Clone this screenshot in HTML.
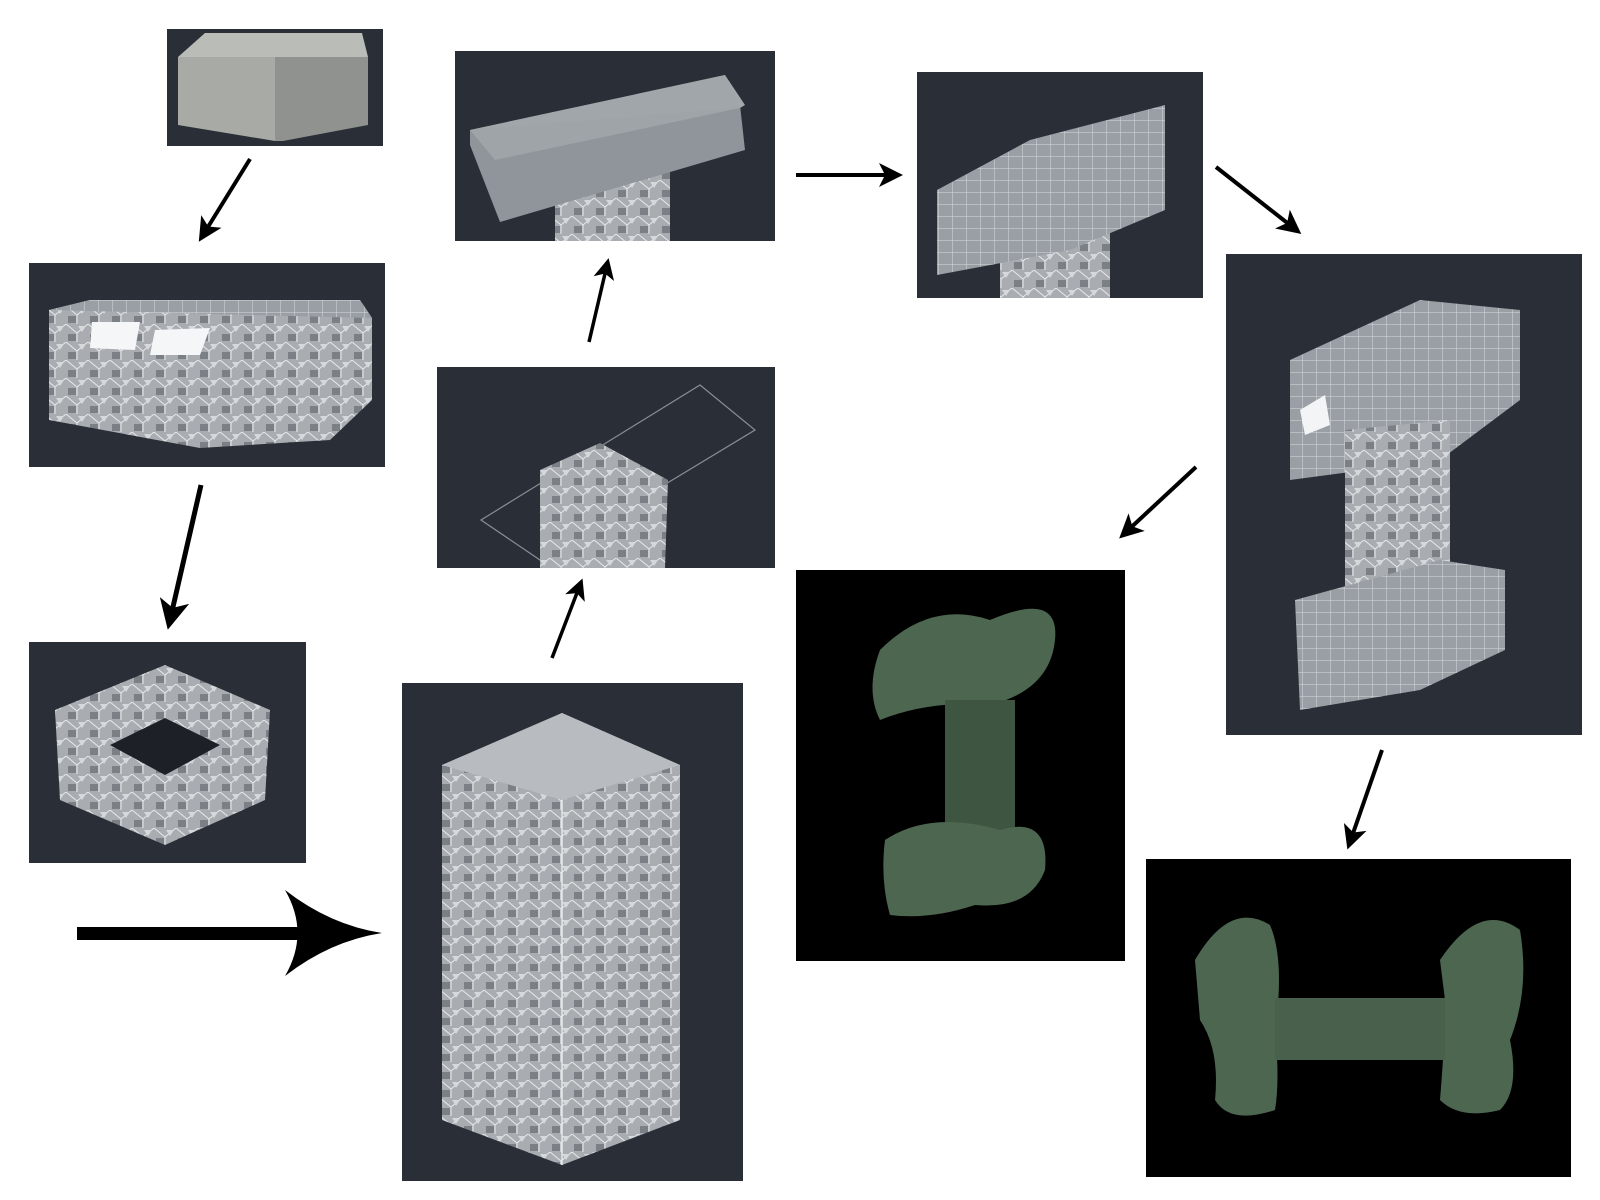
<!DOCTYPE html>
<html><head><style>
body{margin:0;background:#fff;width:1600px;height:1200px;overflow:hidden;position:relative}
svg{position:absolute;left:0;top:0}
</style></head><body>
<svg width="1600" height="1200" viewBox="0 0 1600 1200">
<defs>
<marker id="ah" markerWidth="6" markerHeight="6" refX="4" refY="3" orient="auto" markerUnits="strokeWidth"><path d="M0,0 L6,3 L0,6 L1.5,3z" fill="#000"/></marker>
<pattern id="mesh" width="22" height="18" patternUnits="userSpaceOnUse"><rect width="22" height="18" fill="#a9adb2"/><path d="M0,0 L11,9 L22,0 M11,9 L11,18" stroke="#e8eaec" stroke-width="1" fill="none"/><path d="M2,10 L10,10 L10,17 L2,17z" fill="#7b8087"/><path d="M12,2 L20,2 L16,8z" fill="#d6d9dc"/></pattern>
<pattern id="grid" width="14" height="12" patternUnits="userSpaceOnUse"><rect width="14" height="12" fill="#9a9fa5"/><path d="M0,0 H14 M0,0 V12" stroke="#d8dadd" stroke-width="1"/></pattern>
</defs>
<!-- P1 -->
<rect x="167" y="29" width="216" height="117" fill="#2a2f37"/>
<polygon points="178,57 275,57 275,141 178,125" fill="#a8aaa6"/>
<polygon points="275,57 368,57 368,125 283,141 275,141" fill="#8f928e"/>
<polygon points="178,57 205,33 362,33 368,57" fill="#b9bcb7"/>
<!-- P2 -->
<rect x="29" y="263" width="356" height="204" fill="#2a2f37"/>
<polygon points="49,310 90,300 360,300 372,318 372,400 330,440 200,448 49,420" fill="url(#mesh)"/>
<polygon points="90,300 360,300 372,318 49,310" fill="url(#grid)"/>
<polygon points="92,322 140,322 135,350 90,348" fill="#f4f6f8"/>
<polygon points="155,330 210,328 200,355 150,355" fill="#f4f6f8"/>
<!-- P3 -->
<rect x="29" y="642" width="277" height="221" fill="#2a2f37"/>
<polygon points="55,710 165,665 270,710 265,800 165,845 60,800" fill="url(#mesh)"/>
<polygon points="110,745 165,718 220,745 165,775" fill="#1d2127"/>
<!-- P4 -->
<rect x="402" y="683" width="341" height="498" fill="#2a2f37"/>
<polygon points="442,765 562,713 680,765 680,1120 562,1165 442,1120" fill="url(#mesh)"/>
<polygon points="442,765 562,713 680,765 562,800" fill="#b8bcc0"/>
<line x1="562" y1="800" x2="562" y2="1165" stroke="#e6e8ea" stroke-width="1.5"/>
<!-- P5 -->
<rect x="437" y="367" width="338" height="201" fill="#2a2f37"/>
<polygon points="481,520 700,385 755,430 540,560" fill="none" stroke="#8a8e94" stroke-width="1.2"/>
<polygon points="540,470 600,443 668,480 665,568 540,568" fill="url(#mesh)"/>
<!-- P6 -->
<rect x="455" y="51" width="320" height="190" fill="#2a2f37"/>
<polygon points="555,180 670,170 670,241 555,241" fill="url(#mesh)"/>
<polygon points="470,130 740,105 745,150 500,222 470,145" fill="#8f959b"/>
<polygon points="470,130 725,75 745,105 740,108" fill="#a3a8ad"/>
<polygon points="470,130 725,75 740,108 495,160" fill="#a0a5aa" opacity=".9"/>
<!-- P7 -->
<rect x="917" y="72" width="286" height="226" fill="#2a2f37"/>
<polygon points="1000,240 1110,230 1110,298 1000,298" fill="url(#mesh)"/>
<polygon points="937,190 1030,140 1165,105 1165,210 1070,250 937,275" fill="url(#grid)"/>
<!-- P8 -->
<rect x="1226" y="254" width="356" height="481" fill="#2a2f37"/>
<polygon points="1290,360 1420,300 1520,310 1520,400 1440,460 1290,480" fill="url(#grid)"/>
<polygon points="1345,430 1450,420 1450,600 1345,610" fill="url(#mesh)"/>
<polygon points="1295,600 1440,560 1505,570 1505,650 1420,690 1300,710" fill="url(#grid)"/>
<polygon points="1300,410 1325,395 1330,425 1305,435" fill="#f2f4f6"/>
<!-- P9 -->
<rect x="796" y="570" width="329" height="391" fill="#000"/>
<path d="M880,650 Q930,600 990,620 Q1060,590 1055,640 Q1050,690 990,705 Q930,700 880,720 Q865,690 880,650z" fill="#4d6650"/>
<rect x="945" y="700" width="70" height="150" fill="#3d5541"/>
<path d="M885,840 Q930,810 1000,830 Q1050,815 1045,870 Q1030,910 975,905 Q930,920 890,915 Q880,880 885,840z" fill="#4d6650"/>
<!-- P10 -->
<rect x="1146" y="859" width="425" height="318" fill="#000"/>
<path d="M1195,960 Q1230,900 1270,925 Q1285,960 1275,1030 Q1280,1080 1275,1110 Q1230,1125 1215,1100 Q1220,1050 1200,1020z" fill="#4d6650"/>
<path d="M1440,960 Q1480,900 1520,930 Q1530,990 1510,1040 Q1520,1090 1500,1110 Q1460,1120 1440,1100 Q1445,1040 1445,1000z" fill="#4d6650"/>
<rect x="1275" y="998" width="170" height="62" fill="#49614c"/>
<!-- arrows -->
<g stroke="#000" fill="none">
<line x1="250" y1="159" x2="203" y2="235" stroke-width="4" marker-end="url(#ah)"/>
<line x1="201" y1="485" x2="170" y2="620" stroke-width="5" marker-end="url(#ah)"/>
<line x1="552" y1="658" x2="580" y2="585" stroke-width="3.5" marker-end="url(#ah)"/>
<line x1="589" y1="342" x2="607" y2="265" stroke-width="3.5" marker-end="url(#ah)"/>
<line x1="796" y1="175" x2="895" y2="175" stroke-width="4" marker-end="url(#ah)"/>
<line x1="1216" y1="167" x2="1295" y2="229" stroke-width="4" marker-end="url(#ah)"/>
<line x1="1196" y1="467" x2="1125" y2="533" stroke-width="4" marker-end="url(#ah)"/>
<line x1="1382" y1="750" x2="1350" y2="842" stroke-width="4" marker-end="url(#ah)"/>
</g>
<rect x="77" y="927" width="230" height="13" fill="#000"/>
<path d="M285,890 Q330,925 382,933 Q330,941 285,976 Q310,933 285,890z" fill="#000"/>
</svg>
</body></html>
